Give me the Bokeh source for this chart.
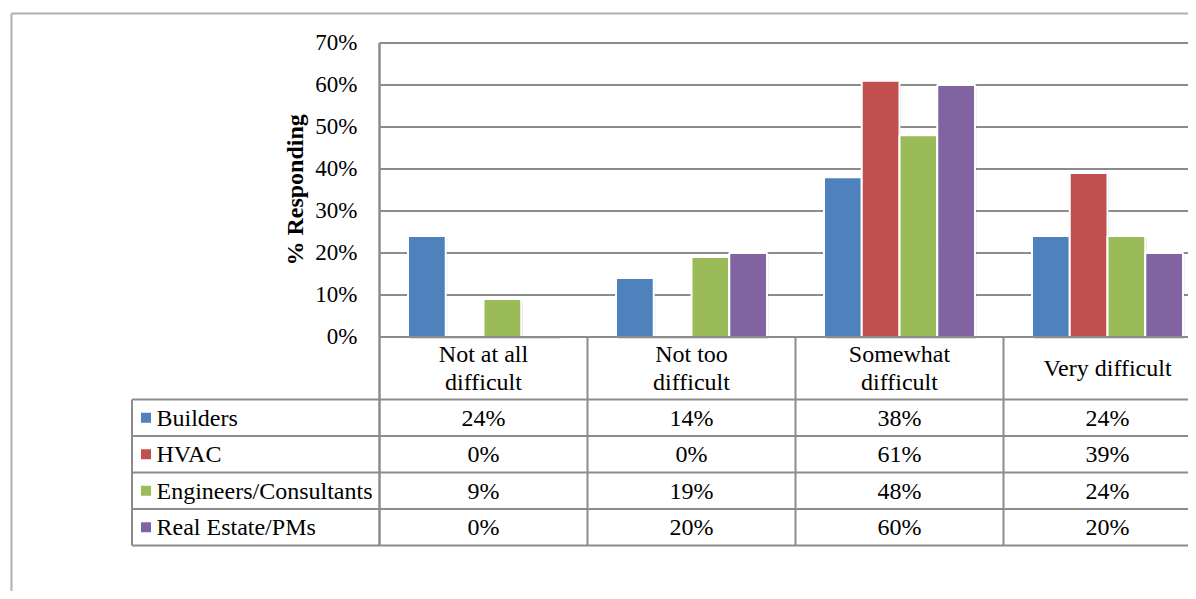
from math import pi
from bokeh.plotting import figure
from bokeh.models import Range1d
from bokeh.core.properties import value
from bokeh.embed import file_html
from bokeh.resources import INLINE

# ---------------- data ----------------
categories = ["Not at all\ndifficult", "Not too\ndifficult", "Somewhat\ndifficult", "Very difficult"]
series_names = ["Builders", "HVAC", "Engineers/Consultants", "Real Estate/PMs"]
builders = [24, 14, 38, 24]
hvac = [0, 0, 61, 39]
engineers = [9, 19, 48, 24]
real_estate = [0, 20, 60, 20]
series_values = [builders, hvac, engineers, real_estate]
y_ticks = [0, 10, 20, 30, 40, 50, 60, 70]
y_tick_labels = ["0%", "10%", "20%", "30%", "40%", "50%", "60%", "70%"]
y_title = "% Responding"
colors = ["#4F81BD", "#C0504D", "#9BBB59", "#8064A2"]

# ---------------- geometry (picture pixels) ----------------
W, H = 1188, 591
AXIS_PX = 379.0      # left edge of the plot area
CAT_W = 208.0        # pixel width of one category
ZERO_PY = 336.4      # pixel row of 0 %
PX_PER_PCT = 4.2     # pixels per percentage point
FONT = value("Liberation Serif")
GRID = "#8C8C8C"


def dx(px):
    return (px - AXIS_PX) / CAT_W


def dy(py):
    return (ZERO_PY - py) / PX_PER_PCT


p = figure(width=W, height=H, output_backend="svg", toolbar_location=None,
           x_range=Range1d(dx(0), dx(W)), y_range=Range1d(dy(H), dy(0)),
           x_axis_type=None, y_axis_type=None, min_border=0,
           outline_line_color=None, background_fill_color="white",
           border_fill_color="white")
p.xgrid.visible = False
p.ygrid.visible = False

n_cat = len(categories)
n_ser = len(series_names)

# outer chart-area frame
p.segment(x0=[dx(11), dx(11)], y0=[dy(13), dy(13)], x1=[dx(1300), dx(11)], y1=[dy(13), dy(700)],
          line_color="#B0B0B0", line_width=2)

# horizontal gridlines
p.segment(x0=[0] * (len(y_ticks) - 1), x1=[n_cat] * (len(y_ticks) - 1),
          y0=y_ticks[1:], y1=y_ticks[1:], line_color=GRID, line_width=2)

# bars
slot = 0.1815
for k in range(n_ser):
    xs = [i + 0.5 + (k - (n_ser - 1) / 2) * slot for i in range(n_cat)]
    # soft shadow
    p.vbar(x=[x + 0.008 for x in xs], top=[v - 0.4 if v > 0 else 0 for v in series_values[k]],
           bottom=-0.5, width=slot * 0.99, fill_color="black", fill_alpha=0.12, line_color=None)
for k in range(n_ser):
    xs = [i + 0.5 + (k - (n_ser - 1) / 2) * slot for i in range(n_cat)]
    p.vbar(x=xs, top=series_values[k], bottom=0, width=slot,
           fill_color=colors[k], line_color="white", line_width=2)

# table geometry
HEADER_BOTTOM = 399.0
ROW_H = 36.5
TABLE_LEFT = 131.5
row_lines = [dy(HEADER_BOTTOM + ROW_H * r) for r in range(n_ser + 1)]
table_bottom = row_lines[-1]

# zero line
p.segment(x0=[0], x1=[n_cat], y0=[0], y1=[0], line_color=GRID, line_width=2)
# axis / left table line
p.segment(x0=[0], x1=[0], y0=[y_ticks[-1]], y1=[table_bottom], line_color=GRID, line_width=2.5)
# category separators
p.segment(x0=list(range(1, n_cat + 1)), x1=list(range(1, n_cat + 1)),
          y0=[0] * n_cat, y1=[table_bottom] * n_cat, line_color=GRID, line_width=2)
# table row lines
p.segment(x0=[dx(TABLE_LEFT)] * len(row_lines), x1=[n_cat] * len(row_lines),
          y0=row_lines, y1=row_lines, line_color=GRID, line_width=2)
# legend column left border
p.segment(x0=[dx(TABLE_LEFT)], x1=[dx(TABLE_LEFT)], y0=[row_lines[0]], y1=[table_bottom],
          line_color=GRID, line_width=2)

# y tick labels
p.text(x=[dx(357)] * len(y_ticks), y=y_ticks, text=y_tick_labels,
       text_font=FONT, text_font_size="23px", text_color="black",
       text_align="right", text_baseline="middle")
# y axis title
p.text(x=[dx(294)], y=[y_ticks[-1] / 2], text=[y_title], angle=pi / 2,
       text_font=FONT, text_font_size="24px", text_font_style="bold", text_color="black",
       text_align="center", text_baseline="middle")

# category labels (header row)
p.text(x=[i + 0.5 for i in range(n_cat)], y=[dy((ZERO_PY + HEADER_BOTTOM) / 2)] * n_cat,
       text=categories, text_font=FONT, text_font_size="24px", text_color="black",
       text_align="center", text_baseline="middle", text_line_height=1.1)

# table values and legend
for k in range(n_ser):
    yc = dy(HEADER_BOTTOM + ROW_H * (k + 0.5))
    p.text(x=[i + 0.5 for i in range(n_cat)], y=[yc] * n_cat,
           text=[f"{v}%" for v in series_values[k]],
           text_font=FONT, text_font_size="24px", text_color="black",
           text_align="center", text_baseline="middle")
    p.scatter(x=[dx(145.5)], y=[yc], marker="square", size=10,
              fill_color=colors[k], line_color=None)
    p.text(x=[dx(156)], y=[yc], text=[series_names[k]],
           text_font=FONT, text_font_size="24px", text_color="black",
           text_align="left", text_baseline="middle")

open("out.html", "w").write(file_html(p, INLINE))
